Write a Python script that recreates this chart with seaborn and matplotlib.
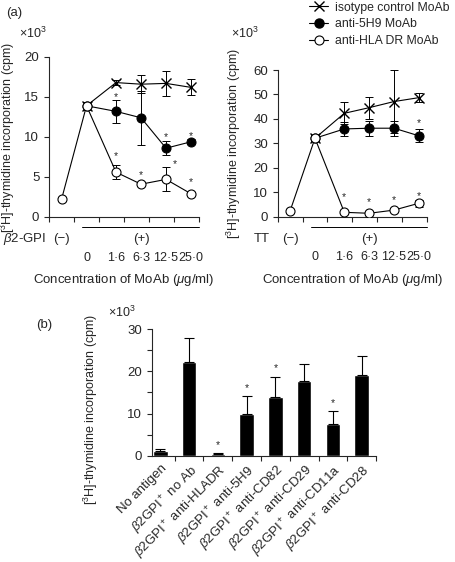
#Proliferation assay figure: panels (a) and (b)

import seaborn as sns
import matplotlib.pyplot as plt
import matplotlib.transforms as mtransforms
from matplotlib.lines import Line2D
import pandas as pd
import numpy as np

sns.set_style('ticks')
plt.rcParams['font.family'] = ['Liberation Sans', 'DejaVu Sans']
plt.rcParams['mathtext.fontset'] = 'custom'
plt.rcParams['mathtext.rm'] = 'Liberation Sans'
plt.rcParams['mathtext.it'] = 'Liberation Sans:italic'
plt.rcParams['font.size'] = 9.5
plt.rcParams['axes.linewidth'] = 0.8

#Data for panel (a): x categories are (-) antigen and MoAb concentration
conc = ['(−)', '0', '1·6', '6·3', '12·5', '25·0']
treated = [0, 0, 1, 1, 1, 1]   # MoAb-treated groups are drawn after a small gap

#beta2-GPI stimulation (x10^3 cpm)
gpi_iso = [np.nan, 13.9, 16.8, 16.6, 16.7, 16.2]
gpi_iso_err = [0, 0.5, 0.3, 1.1, 1.6, 1.0]
gpi_5h9 = [np.nan, 13.9, 13.2, 12.4, 8.6, 9.4]
gpi_5h9_err = [0, 0.5, 1.4, 3.4, 0.9, 0.3]
gpi_hla = [2.2, 13.9, 5.6, 4.1, 4.7, 2.9]
gpi_hla_err = [0.2, 0.5, 0.85, 0.2, 1.5, 0.2]
gpi_stars_x = [2, 4, 5, 2, 3, 4.35, 5]
gpi_stars_y = [15.3, 10.3, 10.5, 8.0, 5.6, 7.0, 4.7]

#TT stimulation (x10^3 cpm)
tt_iso = [np.nan, 32.1, 42.3, 44.6, 47.1, 48.7]
tt_iso_err = [0, 1.2, 4.5, 4.5, 12.8, 1.9]
tt_5h9 = [np.nan, 32.1, 35.9, 36.2, 36.2, 33.1]
tt_5h9_err = [0, 1.2, 2.9, 3.0, 3.0, 2.6]
tt_hla = [2.4, 32.1, 1.8, 1.4, 2.7, 5.5]
tt_hla_err = [0.3, 1.2, 0.3, 0.3, 0.5, 1.5]
tt_stars_x = [5, 2, 3, 4, 5]
tt_stars_y = [39.6, 9.3, 7.1, 7.9, 9.6]

#Data for panel (b)
groups = ['No antigen', r'$\beta$2GPI$^+$ no Ab', r'$\beta$2GPI$^+$ anti-HLADR',
          r'$\beta$2GPI$^+$ anti-5H9', r'$\beta$2GPI$^+$ anti-CD82',
          r'$\beta$2GPI$^+$ anti-CD29', r'$\beta$2GPI$^+$ anti-CD11a',
          r'$\beta$2GPI$^+$ anti-CD28']
bar_vals = [1.2, 22.3, 0.3, 9.9, 14.0, 17.8, 7.5, 19.2]
bar_errs = [0.3, 5.6, 0.25, 4.3, 4.6, 4.0, 3.0, 4.5]
bar_stars = [np.nan, np.nan, 3.2, 16.8, 21.5, np.nan, 13.2, np.nan]

ylab = '[$^3$H]-thymidine incorporation (cpm)'
GAP = 0.18

fig = plt.figure(figsize=(4.56, 5.62), dpi=100)
ax1 = fig.add_axes([0.1075, 0.6139, 0.329, 0.2847])
ax2 = fig.add_axes([0.609, 0.6144, 0.327, 0.261])
ax3 = fig.add_axes([0.3327, 0.1892, 0.492, 0.2249])


def line_panel(ax, iso, iso_err, m5h9, m5h9_err, hla, hla_err, sx, sy,
               ymax, ystep, ax_h):
    pos = np.arange(len(conc)) + GAP * np.array(treated)
    df = pd.DataFrame({'pos': pos, 'iso': iso, 'm5h9': m5h9, 'hla': hla})
    for col, err in [('iso', iso_err), ('m5h9', m5h9_err), ('hla', hla_err)]:
        ax.errorbar(df['pos'], df[col], yerr=err, fmt='none', ecolor='black',
                    elinewidth=0.7, capsize=3, capthick=0.7, zorder=2)
    sns.lineplot(data=df, x='pos', y='iso', ax=ax, color='black', lw=0.8,
                 marker='x', markersize=6.5, mew=1.0, mec='black', zorder=3)
    sns.lineplot(data=df, x='pos', y='m5h9', ax=ax, color='black', lw=0.8,
                 marker='o', markersize=6.5, mfc='black', mec='black', zorder=4)
    sns.lineplot(data=df, x='pos', y='hla', ax=ax, color='black', lw=0.8,
                 marker='o', markersize=6.5, mfc='white', mec='black', mew=0.8,
                 zorder=5)
    for x, y in zip(sx, sy):
        ax.annotate('*', xy=(x + GAP, y), xytext=(0, -2),
                    textcoords='offset points', ha='center', va='center',
                    fontsize=7.5)
    ax.set_xlim(-0.5, 5.5)
    ax.set_ylim(0, ymax)
    ax.set_yticks(np.arange(0, ymax + 1, ystep))
    ax.set_xticks(np.arange(-0.5, 6, 1))
    ax.set_xticklabels([])
    ax.set_xticks(pos[1:], minor=True)
    ax.set_xticklabels(conc[1:], minor=True)
    ax.tick_params(axis='x', which='minor', length=0, pad=25, labelsize=9)
    ax.tick_params(axis='both', which='major', length=3.5, width=0.8,
                   direction='out', labelsize=9.5)
    sns.despine(ax=ax)
    ax.set_xlabel('Concentration of MoAb ($\\mu$g/ml)', fontsize=9.5)
    ax.xaxis.set_label_coords(0.5, -55 / ax_h)
    ax.xaxis.label.set_va('top')
    ax.set_ylabel(ylab, fontsize=9)
    trans = mtransforms.blended_transform_factory(ax.transData, ax.transAxes)
    ax.add_line(Line2D([0.82, 5.5], [-10 / ax_h] * 2, transform=trans,
                       color='black', lw=0.7, clip_on=False))
    ax.text(0, -22 / ax_h, '(−)', transform=trans, ha='center', va='center')
    ax.text(3.2, -22 / ax_h, '(+)', transform=trans, ha='center', va='center')


line_panel(ax1, gpi_iso, gpi_iso_err, gpi_5h9, gpi_5h9_err, gpi_hla,
           gpi_hla_err, gpi_stars_x, gpi_stars_y, 20, 5, 160)
ax1.yaxis.set_label_coords(-0.215, 0.5)
ax1.text(-0.16, -22 / 160, r'$\beta$2-GPI', transform=ax1.transAxes,
         ha='center', va='center')
ax1.text(-0.107, 1.15, '×10$^3$', transform=ax1.transAxes, ha='center',
         va='center', fontsize=9)

line_panel(ax2, tt_iso, tt_iso_err, tt_5h9, tt_5h9_err, tt_hla, tt_hla_err,
           tt_stars_x, tt_stars_y, 60, 10, 146.7)
ax2.yaxis.set_label_coords(-0.236, 0.5)
ax2.text(-0.105, -22 / 146.7, 'TT', transform=ax2.transAxes,
         ha='center', va='center')
ax2.text(-0.22, 1.25, '×10$^3$', transform=ax2.transAxes, ha='center',
         va='center', fontsize=9)

#Legend for panel (a)
handles = [Line2D([], [], color='black', lw=0.8, marker='x', markersize=6.5,
                  mew=1.0),
           Line2D([], [], color='black', lw=0.8, marker='o', markersize=6.5,
                  mfc='black'),
           Line2D([], [], color='black', lw=0.8, marker='o', markersize=6.5,
                  mfc='white', mew=0.8)]
fig.legend(handles, ['isotype control MoAb', 'anti-5H9 MoAb', 'anti-HLA DR MoAb'],
           loc='upper left', bbox_to_anchor=(0.668, 1.006), frameon=False,
           fontsize=8.8, handlelength=1.5, handletextpad=0.6, labelspacing=0.4,
           borderaxespad=0)

#Panel (b)
bdf = pd.DataFrame({'group': groups, 'value': bar_vals})
sns.barplot(data=bdf, x='group', y='value', color='black', width=0.5,
            saturation=1, ax=ax3)
ax3.errorbar(np.arange(len(groups)), bar_vals,
             yerr=[np.zeros(len(groups)), bar_errs], fmt='none', ecolor='black',
             elinewidth=0.8, capsize=3.5, capthick=0.8)
for i, s in enumerate(bar_stars):
    if not np.isnan(s):
        ax3.annotate('*', xy=(i, s), xytext=(0, -2), textcoords='offset points',
                     ha='center', va='center', fontsize=7.5)
ax3.set_xlim(-0.3, 7.5)
ax3.set_ylim(0, 30)
ax3.set_yticks([0, 10, 20, 30])
ax3.set_yticks([5, 15, 25], minor=True)
ax3.set_xticks(np.arange(0.5, 8, 1), minor=True)
ax3.set_xticklabels(groups, rotation=45, ha='right', rotation_mode='anchor')
ax3.tick_params(axis='x', which='major', length=0, pad=5, labelsize=9.5)
ax3.tick_params(axis='x', which='minor', length=3.5, width=0.8)
ax3.tick_params(axis='y', which='both', length=3.5, width=0.8, labelsize=9.5)
sns.despine(ax=ax3)
ax3.set_xlabel('')
ax3.set_ylabel(ylab, fontsize=9)
ax3.yaxis.set_label_coords(-0.229, 0.37)
ax3.text(-0.133, 1.137, '×10$^3$', transform=ax3.transAxes, ha='center',
         va='center', fontsize=9)

fig.text(14 / 456, 1 - 13 / 562, '(a)', ha='center', va='center', fontsize=9.5)
fig.text(44 / 456, 1 - 325 / 562, '(b)', ha='center', va='center', fontsize=9.5)

fig.savefig('out.png', dpi=100)
